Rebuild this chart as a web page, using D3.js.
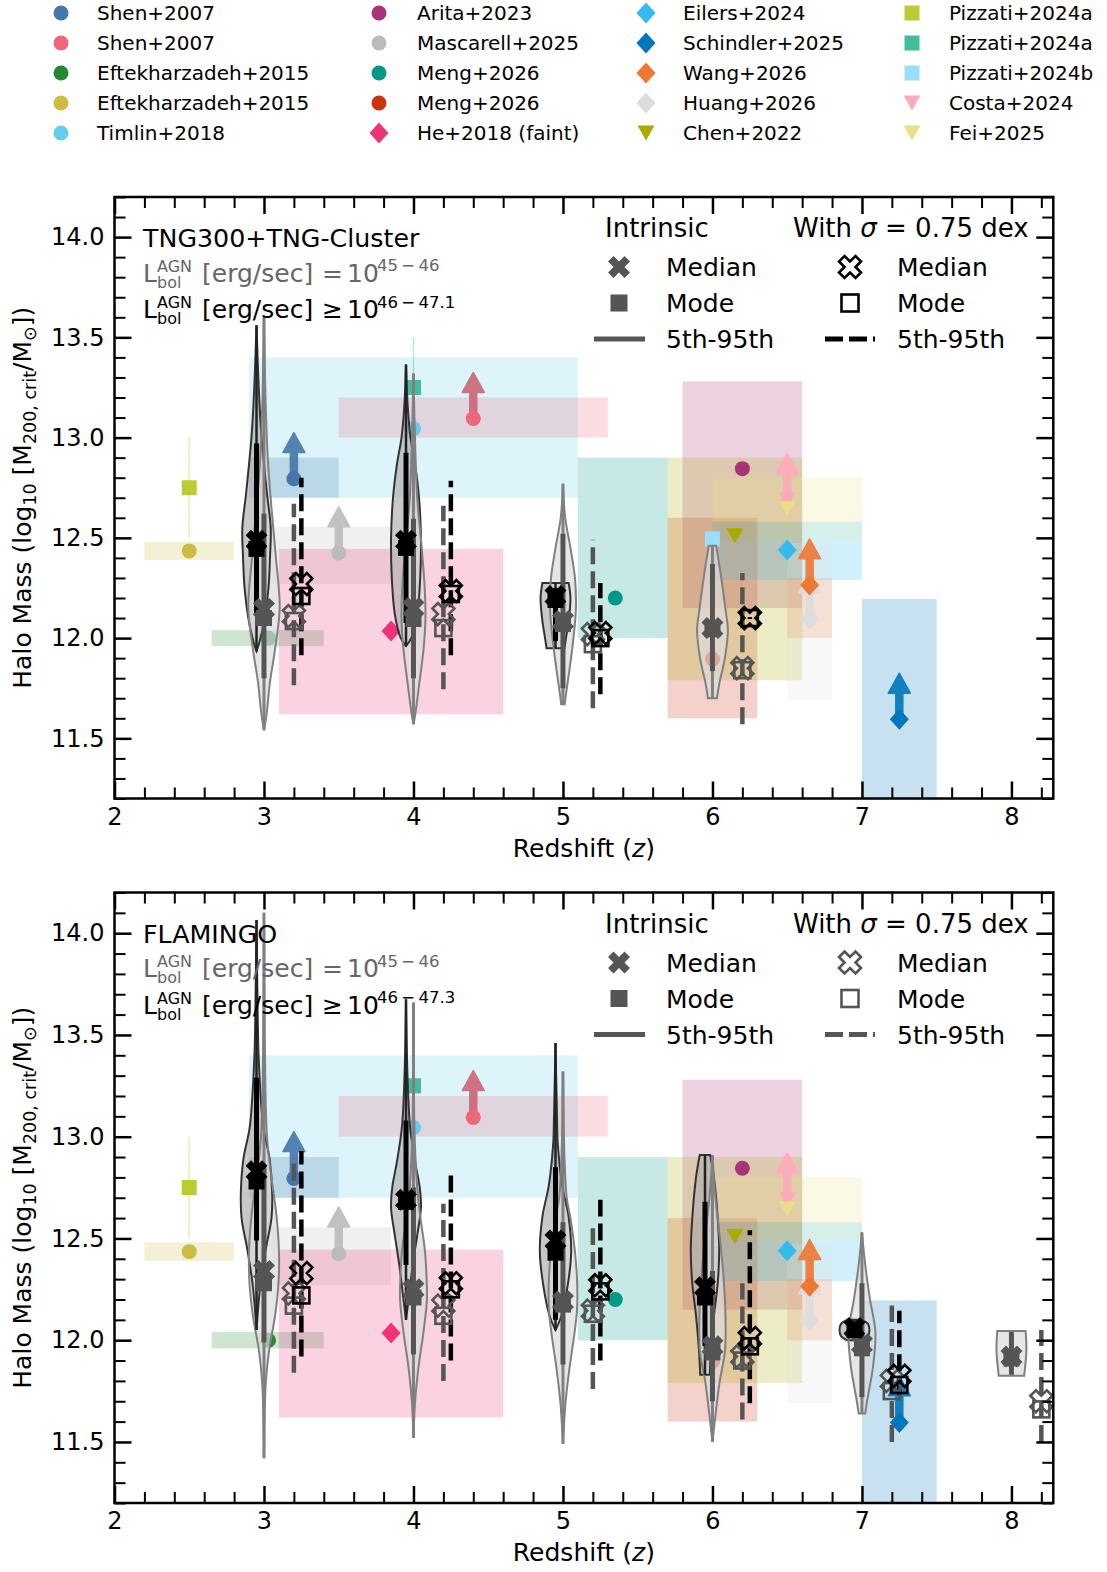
<!DOCTYPE html>
<html>
<head>
<meta charset="utf-8">
<script src="https://cdn.jsdelivr.net/npm/d3@7"></script>
<style>
  body { margin: 0; background: #fff; }
  svg { display: block; font-family: "DejaVu Sans", sans-serif; }
</style>
</head>
<body>
<svg id="fig" width="1107" height="1572"></svg>
<script>
// ---------------- literature references ----------------
const refNames = ["Shen+2007", "Shen+2007", "Eftekharzadeh+2015", "Eftekharzadeh+2015", "Timlin+2018",
  "Arita+2023", "Mascarell+2025", "Meng+2026", "Meng+2026", "He+2018 (faint)",
  "Eilers+2024", "Schindler+2025", "Wang+2026", "Huang+2026", "Chen+2022",
  "Pizzati+2024a", "Pizzati+2024a", "Pizzati+2024b", "Costa+2024", "Fei+2025"];
const refColors = ["#4477AA", "#EE6677", "#228833", "#CCBB44", "#66CCEE",
  "#AA3377", "#BBBBBB", "#009988", "#CC3311", "#EE3377",
  "#33BBEE", "#0077BB", "#EE7733", "#DDDDDD", "#AAAA00",
  "#BBCC33", "#44BB99", "#99DDFF", "#FFAABB", "#EEDD88"];
const refMarkers = ["circle", "circle", "circle", "circle", "circle",
  "circle", "circle", "circle", "circle", "diamond",
  "diamond", "diamond", "diamond", "diamond", "triDown",
  "square", "square", "square", "triDown", "triDown"];
// arrow colour for lower limits (null: same as the marker)
const refArrowColors = [null, "#CC6677", null, null, null, null, null, null, null, null,
  null, null, null, null, null, null, null, null, null, null];

// measured halo masses (log10 Msun) per reference
const obsRefs = [0, 1, 2, 3, 4, 5, 6, 7, 8, 9, 10, 11, 13, 12, 14, 15, 16, 17, 18, 19];
const obsZ = [3.2, 4.4, 3.03, 2.5, 4.0, 6.2, 3.5, 5.35, 6.0, 3.85, 6.5, 7.25, 6.65, 6.65, 6.15, 2.5, 4.0, 6.0, 6.5, 6.5];
const obsMass = [12.795, 13.095, 12.0, 12.435, 13.045, 12.845, 12.425, 12.2, 11.895, 12.035, 12.44, 11.595, 12.095, 12.265, 12.51, 12.75, 13.25, 12.495, 12.69, 12.645];
const obsLowerLimit = [1, 1, 0, 0, 0, 0, 1, 0, 0, 0, 0, 1, 1, 1, 0, 0, 0, 0, 1, 0];

// redshift / mass ranges covered by each measurement
const boxRefs = [4, 0, 1, 2, 3, 6, 9, 7, 8, 5, 14, 19, 16, 10, 12, 13, 11];
const boxZLo = [2.9, 2.9, 3.5, 2.65, 2.2, 3.05, 3.1, 5.1, 5.7, 5.8, 5.7, 6.0, 6.0, 6.0, 6.5, 6.5, 7.0];
const boxZHi = [5.1, 3.5, 5.3, 3.4, 2.8, 3.85, 4.6, 5.7, 6.3, 6.6, 6.6, 7.0, 7.0, 7.0, 6.8, 6.8, 7.5];
const boxMLo = [12.7, 12.7, 13.0, 11.96, 12.39, 12.27, 11.62, 12.0, 11.6, 12.15, 11.79, 12.58, 12.49, 12.29, 12.0, 11.69, 11.0];
const boxMHi = [13.4, 12.9, 13.2, 12.04, 12.48, 12.555, 12.445, 12.9, 12.6, 13.28, 12.9, 12.8, 12.58, 12.49, 12.3, 12.475, 12.195];

// thin uncertainty bars
const barRefs = [15, 16];
const barZ = [2.5, 4.0];
const barMLo = [12.5, 13.0];
const barMHi = [13.0, 13.5];

// ---------------- simulations ----------------
// intrinsic rows: z, min, max, p5, p95, median, mode
// violin shapes: [log mass, half-width in z]
// scattered rows: z, p5, p95, median, mode
const tngBrightIntrinsic = [
  [2.95, 11.935, 13.56, 12.12, 12.97, 12.485, 12.445],
  [3.95, 11.96, 13.365, 12.075, 12.925, 12.485, 12.45],
  [4.95, 11.95, 12.275, 11.985, 12.25, 12.21, 12.19]];
const tngBrightShapes = [
  [[13.56, 0], [13.2, 0.018], [13.0, 0.034], [12.72, 0.07], [12.55, 0.095], [12.4, 0.09], [12.25, 0.08], [12.1, 0.055], [11.98, 0.02], [11.935, 0]],
  [[13.365, 0], [13.15, 0.012], [13.0, 0.03], [12.87, 0.06], [12.7, 0.087], [12.5, 0.1], [12.3, 0.095], [12.12, 0.075], [12.0, 0.035], [11.96, 0]],
  [[12.275, 0.088], [12.2, 0.1], [12.1, 0.09], [12.0, 0.07], [11.95, 0.06]]];
const tngFaintIntrinsic = [
  [3.0, 11.54, 13.6, 11.8, 12.62, 12.145, 12.1],
  [4.0, 11.57, 13.32, 11.8, 12.595, 12.15, 12.095],
  [5.0, 11.67, 12.77, 11.75, 12.52, 12.085, 12.07],
  [6.0, 11.7, 12.46, 11.835, 12.37, 12.05, 12.045]];
const tngFaintShapes = [
  [[13.6, 0], [13.2, 0.01], [12.9, 0.025], [12.65, 0.05], [12.4, 0.08], [12.15, 0.105], [11.95, 0.075], [11.78, 0.04], [11.62, 0.017], [11.54, 0]],
  [[13.32, 0], [13.0, 0.01], [12.7, 0.025], [12.45, 0.055], [12.25, 0.075], [12.1, 0.08], [11.95, 0.068], [11.78, 0.04], [11.62, 0.012], [11.57, 0]],
  [[12.77, 0], [12.6, 0.015], [12.45, 0.05], [12.3, 0.08], [12.15, 0.087], [12.0, 0.07], [11.85, 0.045], [11.72, 0.02], [11.67, 0.012]],
  [[12.46, 0.025], [12.32, 0.055], [12.15, 0.086], [12.04, 0.103], [11.9, 0.083], [11.77, 0.045], [11.7, 0.03]]];
const tngBrightScattered = [
  [3.25, 11.915, 12.8, 12.27, 12.21],
  [4.25, 11.915, 12.785, 12.235, 12.22],
  [5.25, 11.72, 12.275, 12.025, 12.0],
  [6.25, 12.095, 12.105, 12.1, 12.1]];
const tngFaintScattered = [
  [3.2, 11.765, 12.67, 12.11, 12.085],
  [4.2, 11.745, 12.66, 12.12, 12.05],
  [5.2, 11.65, 12.49, 12.02, 11.97],
  [6.2, 11.57, 12.325, 11.85, 11.84]];

const flamBrightIntrinsic = [
  [2.95, 12.05, 14.065, 12.49, 13.29, 12.83, 12.78],
  [3.95, 12.1, 13.675, 12.37, 13.08, 12.69, 12.68],
  [4.95, 12.05, 13.46, 12.1, 12.85, 12.49, 12.43],
  [5.95, 11.83, 12.91, 11.97, 12.68, 12.26, 12.21],
  [6.95, 12.0, 12.1, 12.06, 12.06, 12.06, 12.05]];
const flamBrightShapes = [
  [[14.065, 0], [13.6, 0.008], [13.38, 0.015], [13.05, 0.045], [12.89, 0.088], [12.72, 0.105], [12.6, 0.1], [12.44, 0.06], [12.28, 0.027], [12.05, 0]],
  [[13.675, 0], [13.3, 0.01], [13.05, 0.027], [12.88, 0.06], [12.75, 0.092], [12.65, 0.1], [12.53, 0.078], [12.37, 0.045], [12.2, 0.017], [12.1, 0]],
  [[13.46, 0], [13.1, 0.01], [12.97, 0.015], [12.76, 0.045], [12.61, 0.087], [12.44, 0.105], [12.28, 0.084], [12.12, 0.04], [12.05, 0]],
  [[12.91, 0.035], [12.8, 0.06], [12.6, 0.085], [12.44, 0.095], [12.28, 0.085], [12.12, 0.06], [11.95, 0.04], [11.83, 0.032]],
  [[12.1, 0.05], [12.08, 0.09], [12.05, 0.1], [12.02, 0.09], [12.0, 0.05]]];
const flamFaintIntrinsic = [
  [3.0, 11.42, 14.1, 11.99, 12.85, 12.34, 12.28],
  [4.0, 11.52, 13.66, 11.93, 12.75, 12.25, 12.21],
  [5.0, 11.49, 13.32, 11.88, 12.58, 12.19, 12.175],
  [6.0, 11.5, 12.91, 11.7, 12.34, 11.97, 11.94],
  [7.0, 11.64, 12.53, 11.72, 12.28, 11.98, 11.96],
  [8.0, 11.825, 12.045, 11.83, 12.04, 11.92, 11.91]];
const flamFaintShapes = [
  [[14.1, 0], [13.5, 0.005], [13.0, 0.02], [12.8, 0.05], [12.61, 0.084], [12.44, 0.1], [12.28, 0.097], [12.12, 0.074], [11.95, 0.034], [11.79, 0.012], [11.42, 0]],
  [[13.66, 0], [13.0, 0.008], [12.75, 0.025], [12.61, 0.045], [12.45, 0.075], [12.3, 0.088], [12.2, 0.09], [12.04, 0.067], [11.87, 0.034], [11.7, 0.011], [11.52, 0]],
  [[13.32, 0], [12.9, 0.01], [12.7, 0.025], [12.6, 0.05], [12.45, 0.078], [12.3, 0.094], [12.15, 0.094], [12.04, 0.078], [11.87, 0.045], [11.7, 0.018], [11.49, 0]],
  [[12.91, 0], [12.7, 0.02], [12.5, 0.05], [12.3, 0.075], [12.12, 0.087], [11.95, 0.084], [11.79, 0.047], [11.63, 0.02], [11.5, 0]],
  [[12.53, 0], [12.37, 0.022], [12.2, 0.054], [12.04, 0.09], [11.87, 0.074], [11.7, 0.034], [11.64, 0.022]],
  [[12.045, 0.095], [11.95, 0.1], [11.825, 0.085]]];
const flamBrightScattered = [
  [3.25, 11.92, 12.93, 12.33, 12.22],
  [4.25, 11.9, 12.81, 12.28, 12.25],
  [5.25, 11.9, 12.69, 12.27, 12.24],
  [6.25, 11.69, 12.54, 12.01, 11.97],
  [7.25, 11.73, 12.145, 11.825, 11.78]];
const flamFaintScattered = [
  [3.2, 11.84, 12.9, 12.23, 12.17],
  [4.2, 11.8, 12.67, 12.17, 12.12],
  [5.2, 11.76, 12.55, 12.145, 12.13],
  [6.2, 11.61, 12.28, 11.92, 11.9],
  [7.2, 11.5, 12.17, 11.8, 11.75],
  [8.2, 11.5, 12.05, 11.7, 11.66]];

const panelTitles = ["TNG300+TNG-Cluster", "FLAMINGO"];
const brightExponents = ["46\u2009\u2212\u200947.1", "46\u2009\u2212\u200947.3"];
const faintExponent = "45\u2009\u2212\u200946";

const zTicks = [2, 3, 4, 5, 6, 7, 8];
const massTicks = [11.5, 12.0, 12.5, 13.0, 13.5, 14.0];

// ---------------- drawing ----------------
const LIMIT_ARROW_DEX = 0.23;
const svg = d3.select("#fig");
const x = d3.scaleLinear().domain([2, 8.28]).range([114.5, 1053.3]);
const panelBoxes = [{ top: 197, bottom: 798.5 }, { top: 892.5, bottom: 1503 }];
const scattColors = ["#000", "#555"];

const xShape = [[-1, -2], [0, -1], [1, -2], [2, -1], [1, 0], [2, 1], [1, 2], [0, 1], [-1, 2], [-2, 1], [-1, 0], [-2, -1]];
function xPath(size) {
  const k = size / 4;
  return "M" + xShape.map(p => (p[0] * k) + "," + (p[1] * k)).join("L") + "Z";
}
function shapePath(shape) {
  if (shape === "diamond") return "M0,-10.5L9.5,0L0,10.5L-9.5,0Z";
  if (shape === "triDown") return "M-8.5,-7.5L8.5,-7.5L0,7.5Z";
  if (shape === "square") return "M-7.5,-7.5L7.5,-7.5L7.5,7.5L-7.5,7.5Z";
  return null;
}
function drawRefMarker(g, shape, cx, cy, color) {
  if (shape === "circle") {
    g.append("circle").attr("cx", cx).attr("cy", cy).attr("r", 7.5).attr("fill", color);
  } else {
    g.append("path").attr("d", shapePath(shape)).attr("transform", `translate(${cx},${cy})`).attr("fill", color);
  }
}
function simX(g, cx, cy, color, filled, size = 22) {
  const p = g.append("path").attr("d", xPath(size)).attr("transform", `translate(${cx},${cy})`);
  if (filled) p.attr("fill", color);
  else p.attr("fill", "none").attr("stroke", color).attr("stroke-width", 2.6).attr("stroke-linejoin", "miter");
}
function simSquare(g, cx, cy, color, filled, side = 16) {
  const r = g.append("rect").attr("x", cx - side / 2).attr("y", cy - side / 2).attr("width", side).attr("height", side);
  if (filled) r.attr("fill", color);
  else r.attr("fill", "none").attr("stroke", color).attr("stroke-width", 2.6);
}
function vline(g, z, y0, y1, color, width, dash) {
  const l = g.append("line").attr("x1", x(z)).attr("x2", x(z)).attr("y1", y0).attr("y2", y1)
    .attr("stroke", color).attr("stroke-width", width);
  if (dash) l.attr("stroke-dasharray", dash);
  return l;
}

// figure legend
const legColX = [61, 379, 646, 912], legTextX = [97, 417, 683, 949], legRowY = [13, 43, 73, 103, 133];
const figLegend = svg.append("g");
refNames.forEach((name, i) => {
  const c = Math.floor(i / 5), r = i % 5;
  drawRefMarker(figLegend, refMarkers[i], legColX[c], legRowY[r], refColors[i]);
  figLegend.append("text").attr("x", legTextX[c]).attr("y", legRowY[r] + 7.3)
    .attr("font-size", 20).text(name);
});

function drawPanel(idx, brightI, brightShapes, faintI, faintShapes, brightS, faintS) {
  const P = panelBoxes[idx];
  const y = d3.scaleLinear().domain([11.2, 14.2]).range([P.bottom, P.top]);
  const clipId = "plotclip" + idx;
  svg.append("clipPath").attr("id", clipId).append("rect")
    .attr("x", x(2)).attr("y", P.top).attr("width", x(8.28) - x(2)).attr("height", P.bottom - P.top);
  const plot = svg.append("g").attr("clip-path", `url(#${clipId})`);

  // survey ranges
  boxRefs.forEach((r, k) => {
    plot.append("rect")
      .attr("x", x(boxZLo[k])).attr("width", x(boxZHi[k]) - x(boxZLo[k]))
      .attr("y", y(boxMHi[k])).attr("height", y(boxMLo[k]) - y(boxMHi[k]))
      .attr("fill", refColors[r]).attr("fill-opacity", 0.22);
  });
  barRefs.forEach((r, k) => {
    vline(plot, barZ[k], y(barMLo[k]), y(barMHi[k]), refColors[r], 1.5).attr("stroke-opacity", 0.35);
  });
  // lower-limit arrows
  obsRefs.forEach((r, k) => {
    if (!obsLowerLimit[k]) return;
    const px = x(obsZ[k]), pb = y(obsMass[k]), pt = y(obsMass[k] + LIMIT_ARROW_DEX);
    const hw = 11, hl = 20, sw = 3.5;
    const col = refArrowColors[r] || refColors[r];
    plot.append("path")
      .attr("d", `M${px - sw},${pb}L${px - sw},${pt + hl}L${px - hw},${pt + hl}L${px},${pt}L${px + hw},${pt + hl}L${px + sw},${pt + hl}L${px + sw},${pb}Z`)
      .attr("fill", col).attr("stroke", col).attr("stroke-width", 1.5)
      .attr("stroke-linejoin", "round").attr("opacity", 0.9);
  });
  obsRefs.forEach((r, k) => drawRefMarker(plot, refMarkers[r], x(obsZ[k]), y(obsMass[k]), refColors[r]));

  // violins
  const area = z => d3.area().y(d => y(d[0])).x0(d => x(z - d[1])).x1(d => x(z + d[1]))
    .curve(d3.curveCatmullRom.alpha(0.5));
  brightI.forEach((row, k) => plot.append("path").attr("d", area(row[0])(brightShapes[k]))
    .attr("fill", "#b0b0b0").attr("fill-opacity", 0.7));
  faintI.forEach((row, k) => plot.append("path").attr("d", area(row[0])(faintShapes[k]))
    .attr("fill", "#dcdcdc").attr("fill-opacity", 0.7));
  brightI.forEach((row, k) => plot.append("path").attr("d", area(row[0])(brightShapes[k]))
    .attr("fill", "none").attr("stroke", "#333").attr("stroke-width", 2));
  faintI.forEach((row, k) => plot.append("path").attr("d", area(row[0])(faintShapes[k]))
    .attr("fill", "none").attr("stroke", "#808080").attr("stroke-width", 2));

  // extent and 5th-95th bars
  brightI.forEach(row => vline(plot, row[0], y(row[1]), y(row[2]), "#222", 2.5));
  faintI.forEach(row => vline(plot, row[0], y(row[1]), y(row[2]), "#808080", 3));
  brightI.forEach(row => vline(plot, row[0], y(row[3]), y(row[4]), "#000", 5));
  faintI.forEach(row => vline(plot, row[0], y(row[3]), y(row[4]), "#555", 5));
  // scattered (sigma = 0.75 dex) ranges
  faintS.forEach(row => vline(plot, row[0], y(row[1]), y(row[2]), "#555", 4.5, "17,7"));
  brightS.forEach(row => vline(plot, row[0], y(row[1]), y(row[2]), "#000", 4.5, "17,7"));

  // median / mode markers
  faintI.forEach(row => { simSquare(plot, x(row[0]), y(row[6]), "#555", true); simX(plot, x(row[0]), y(row[5]), "#555", true); });
  brightI.forEach(row => { simSquare(plot, x(row[0]), y(row[6]), "#000", true); simX(plot, x(row[0]), y(row[5]), "#000", true); });
  faintS.forEach(row => { simSquare(plot, x(row[0]), y(row[4]), "#555", false); simX(plot, x(row[0]), y(row[3]), "#555", false); });
  brightS.forEach(row => { simSquare(plot, x(row[0]), y(row[4]), "#000", false); simX(plot, x(row[0]), y(row[3]), "#000", false); });

  // axes with inward ticks on all sides
  const zMinor = d3.range(2.2, 8.28, 0.2).filter(v => Math.abs(v - Math.round(v)) > 1e-6);
  const mMinor = d3.range(11.2, 14.21, 0.1).filter(v => Math.abs(v * 2 - Math.round(v * 2)) > 1e-6);
  const addAxis = (axis, tx, ty, width) => {
    const a = svg.append("g").attr("transform", `translate(${tx},${ty})`).call(axis);
    a.select(".domain").remove();
    a.attr("font-size", 24).attr("font-family", "DejaVu Sans");
    a.selectAll(".tick line").attr("stroke-width", width);
    return a;
  };
  addAxis(d3.axisBottom(x).tickValues(zTicks).tickSize(-17).tickPadding(9).tickFormat(d3.format("d")), 0, P.bottom, 2.5);
  addAxis(d3.axisBottom(x).tickValues(zMinor).tickSize(-11).tickFormat(""), 0, P.bottom, 2);
  addAxis(d3.axisTop(x).tickValues(zTicks).tickSize(-17).tickFormat(""), 0, P.top, 2.5);
  addAxis(d3.axisTop(x).tickValues(zMinor).tickSize(-11).tickFormat(""), 0, P.top, 2);
  addAxis(d3.axisLeft(y).tickValues(massTicks).tickSize(-17).tickPadding(10).tickFormat(d3.format(".1f")), x(2), 0, 2.5);
  addAxis(d3.axisLeft(y).tickValues(mMinor).tickSize(-11).tickFormat(""), x(2), 0, 2);
  addAxis(d3.axisRight(y).tickValues(massTicks).tickSize(-17).tickFormat(""), x(8.28), 0, 2.5);
  addAxis(d3.axisRight(y).tickValues(mMinor).tickSize(-11).tickFormat(""), x(8.28), 0, 2);
  svg.append("rect").attr("x", x(2)).attr("y", P.top).attr("width", x(8.28) - x(2)).attr("height", P.bottom - P.top)
    .attr("fill", "none").attr("stroke", "#000").attr("stroke-width", 2.5);

  // axis titles
  const xt = svg.append("text").attr("x", (x(2) + x(8.28)) / 2).attr("y", P.bottom + 58)
    .attr("text-anchor", "middle").attr("font-size", 25);
  xt.append("tspan").text("Redshift (");
  xt.append("tspan").attr("font-style", "italic").text("z");
  xt.append("tspan").text(")");
  const yt = svg.append("text").attr("transform", `translate(31,${(P.top + P.bottom) / 2}) rotate(-90)`)
    .attr("text-anchor", "middle").attr("font-size", 25);
  yt.append("tspan").text("Halo Mass (log");
  yt.append("tspan").attr("font-size", 17.5).attr("dy", 5).text("10");
  yt.append("tspan").attr("dy", -5).text(" [M");
  yt.append("tspan").attr("font-size", 17.5).attr("dy", 5).text("200, crit");
  yt.append("tspan").attr("dy", -5).text("/M");
  yt.append("tspan").attr("font-size", 17.5).attr("dy", 5).text("\u2299");
  yt.append("tspan").attr("dy", -5).text("])");

  // annotations
  const T = P.top;
  svg.append("text").attr("x", 143).attr("y", T + 50).attr("font-size", 25.3).text(panelTitles[idx]);
  const lumLine = (base, color, rel, expo) => {
    const t = svg.append("text").attr("fill", color).attr("font-size", 25);
    t.append("tspan").attr("x", 143).attr("y", base).text("L");
    t.append("tspan").attr("x", 157).attr("y", base - 10).attr("font-size", 16).text("AGN");
    t.append("tspan").attr("x", 157).attr("y", base + 6).attr("font-size", 16).text("bol");
    t.append("tspan").attr("x", 202).attr("y", base).text("[erg/sec]");
    t.append("tspan").attr("x", 322).attr("y", base).text(rel);
    t.append("tspan").attr("x", 347).attr("y", base).text("10");
    t.append("tspan").attr("x", 377).attr("y", base - 10.5).attr("font-size", 16.5).text(expo);
  };
  lumLine(T + 84.5, "#666", "=", faintExponent);
  lumLine(T + 121, "#000", "\u2265", brightExponents[idx]);

  // statistics legend
  const lg = svg.append("g").attr("font-size", 25);
  lg.append("text").attr("x", 605).attr("y", T + 40).attr("font-size", 26).text("Intrinsic");
  const hdr = lg.append("text").attr("x", 793).attr("y", T + 40).attr("font-size", 26);
  hdr.append("tspan").text("With ");
  hdr.append("tspan").attr("font-style", "italic").text("\u03C3");
  hdr.append("tspan").text(" = 0.75 dex");
  const sc = scattColors[idx];
  simX(lg, 619, T + 70, "#555", true);
  simSquare(lg, 619, T + 106, "#555", true, 17);
  lg.append("line").attr("x1", 594).attr("x2", 645).attr("y1", T + 142).attr("y2", T + 142)
    .attr("stroke", "#555").attr("stroke-width", 5);
  simX(lg, 850, T + 70, sc, false);
  simSquare(lg, 850, T + 106, sc, false, 17);
  lg.append("line").attr("x1", 825).attr("x2", 875).attr("y1", T + 142).attr("y2", T + 142)
    .attr("stroke", sc).attr("stroke-width", 5).attr("stroke-dasharray", "18,6");
  [["Median", 79], ["Mode", 115], ["5th-95th", 151]].forEach(([t, dy]) => {
    lg.append("text").attr("x", 666).attr("y", T + dy).text(t);
    lg.append("text").attr("x", 897).attr("y", T + dy).text(t);
  });
}

drawPanel(0, tngBrightIntrinsic, tngBrightShapes, tngFaintIntrinsic, tngFaintShapes, tngBrightScattered, tngFaintScattered);
drawPanel(1, flamBrightIntrinsic, flamBrightShapes, flamFaintIntrinsic, flamFaintShapes, flamBrightScattered, flamFaintScattered);
</script>
</body>
</html>
